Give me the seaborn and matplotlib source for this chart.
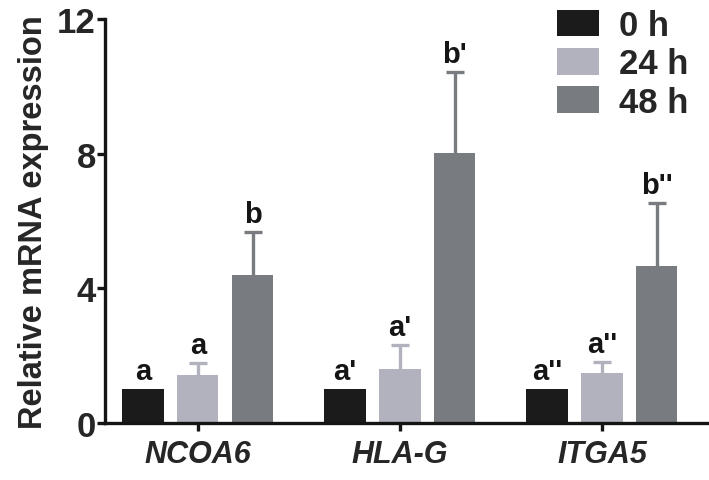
import numpy as np
import pandas as pd
import matplotlib
matplotlib.use("Agg")
import matplotlib.pyplot as plt
import seaborn as sns
from matplotlib.container import BarContainer

# valores
genes = ["NCOA6", "HLA-G", "ITGA5"]
tempos = ["0 h", "24 h", "48 h"]
media_0h = [1.0, 1.0, 1.0]
media_24h = [1.42, 1.60, 1.48]
media_48h = [4.39, 8.02, 4.66]
sd_0h = [0.0, 0.0, 0.0]
sd_24h = [0.36, 0.71, 0.34]
sd_48h = [1.28, 2.41, 1.87]
letras_0h = ["a", "a'", "a''"]
letras_24h = ["a", "a'", "a''"]
letras_48h = ["b", "b'", "b''"]

cores = ["#1b1b1b", "#b1b2bd", "#787c80"]

dados = {"gene": [], "tempo": [], "valor": []}
for t, vals in zip(tempos, [media_0h, media_24h, media_48h]):
    for g, v in zip(genes, vals):
        dados["gene"].append(g)
        dados["tempo"].append(t)
        dados["valor"].append(v)
df = pd.DataFrame(dados)

sns.set_style("ticks")
plt.rcParams['font.family'] = ['Liberation Sans', 'DejaVu Sans']
plt.rcParams['font.weight'] = 'bold'

fig = plt.figure(figsize=(7.09, 4.81), dpi=100)
ax = fig.add_axes([0.148, 0.1185, 0.852, 0.8395])

sns.barplot(data=df, x="gene", y="valor", hue="tempo", order=genes, hue_order=tempos,
            palette=cores, errorbar=None, width=0.816, gap=0.25, saturation=1,
            linewidth=0, ax=ax, zorder=2)

sds = [sd_0h, sd_24h, sd_48h]
letras = [letras_0h, letras_24h, letras_48h]
barras = [c for c in ax.containers if isinstance(c, BarContainer)]
for i, cont in enumerate(barras):
    for j, barra in enumerate(cont.patches):
        xc = barra.get_x() + barra.get_width() / 2
        topo = barra.get_height()
        sd = sds[i][j]
        if sd > 0:
            # só a parte de cima, atrás da barra
            ax.errorbar(xc, topo - 0.1, yerr=[[0], [sd + 0.1]], fmt='none', ecolor=cores[i],
                        elinewidth=2.4, capsize=6.5, capthick=2.4, zorder=1)
        ax.text(xc, topo + sd + 0.3, letras[i][j], ha='center', va='baseline',
                fontsize=21, fontweight='bold', color='#151515')

ax.set_ylim(0, 12)
ax.set_xlim(-0.46, 2.53)
ax.set_yticks([0, 4, 8, 12])
ax.set_xlabel("")
ax.set_ylabel("Relative mRNA expression", fontsize=23.5, fontweight='bold', labelpad=6)
sns.despine(ax=ax)
for s in ["left", "bottom"]:
    ax.spines[s].set_linewidth(2.4)
    ax.spines[s].set_color('#151515')
ax.tick_params(axis='both', width=2.4, length=5.5, color='#151515')
ax.tick_params(axis='y', labelsize=25, pad=1)
ax.tick_params(axis='x', labelsize=22, pad=6)
for lab in ax.get_yticklabels():
    lab.set_fontweight('bold')
for lab in ax.get_xticklabels():
    lab.set_fontweight('bold')
    lab.set_fontstyle('italic')

handles, labels = ax.get_legend_handles_labels()
ax.legend(handles, labels, loc='upper left', bbox_to_anchor=(0.748, 1.025), frameon=False,
          handlelength=1.21, handleheight=0.81, handletextpad=0.58,
          labelspacing=0.15, borderpad=0, borderaxespad=0, prop={'weight': 'bold', 'size': 25})

fig.savefig("out.png", dpi=100)
